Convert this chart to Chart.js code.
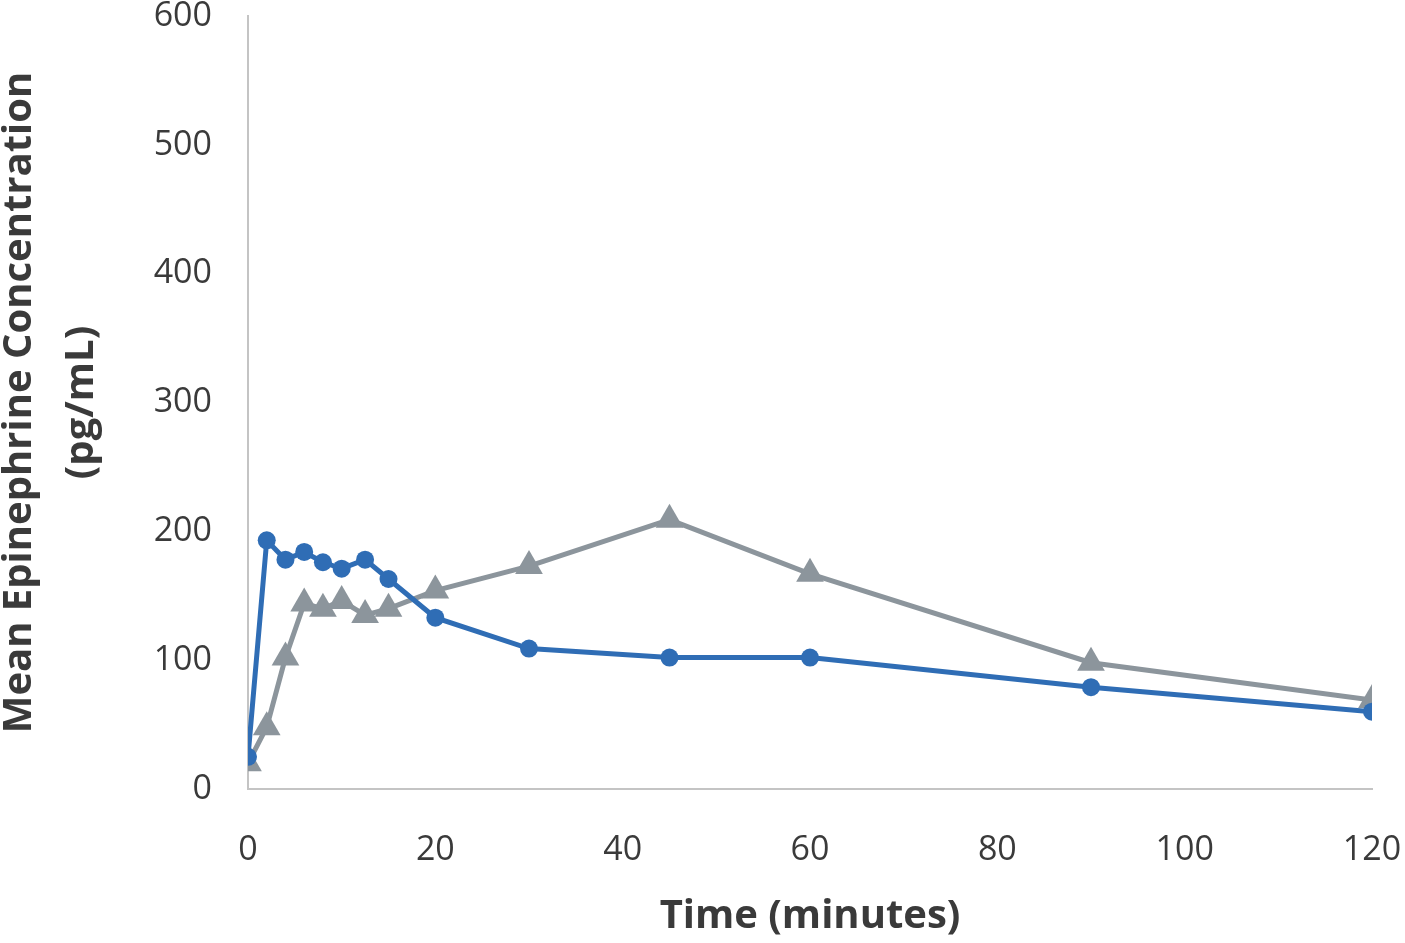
<!DOCTYPE html>
<html>
<head>
<meta charset="utf-8">
<script src="https://cdn.jsdelivr.net/npm/chart.js@4"></script>
<style>
  html, body { margin: 0; padding: 0; background: #fff; }
  #wrap { width: 1405px; height: 943px; }
</style>
</head>
<body>
<div id="wrap"><canvas id="myChart" width="1405" height="943"></canvas></div>
<script>
// time points (minutes)
var times = [0, 2, 4, 6, 8, 10, 12.5, 15, 20, 30, 45, 60, 90, 120];
// mean epinephrine concentration (pg/mL)
var blueValues = [25, 193, 178, 184, 176, 171, 178, 163, 133, 109, 102, 102, 79, 60];
var grayValues = [20, 48, 102, 144, 140, 146, 135, 140, 154, 173, 209, 167, 98, 69];
var yTicks = [0, 100, 200, 300, 400, 500, 600];
var xTicks = [0, 20, 40, 60, 80, 100, 120];

function toPoints(vals) {
    return times.map(function(t, i) { return { x: t, y: vals[i] }; });
}

document.addEventListener("DOMContentLoaded", function() {
    var ctx = document.getElementById('myChart').getContext('2d');
    var textColor = '#3a3a3a';
    var tickFont = { family: 'Open Sans', size: 34, lineHeight: 1 };
    var yTitleFont = { family: 'Open Sans', size: 40, weight: 'bold', lineHeight: 1.55 };
    var xTitleFont = { family: 'Open Sans', size: 40, weight: 'bold', lineHeight: 1.2 };

    new Chart(ctx, {
        type: 'line',
        data: {
            datasets: [{
                label: 'Series 1',
                data: toPoints(blueValues),
                borderColor: '#2f6db5',
                backgroundColor: '#2f6db5',
                borderWidth: 5,
                pointStyle: 'circle',
                pointRadius: 9,
                pointHoverRadius: 9,
                pointBorderWidth: 0,
                tension: 0
            }, {
                label: 'Series 2',
                data: toPoints(grayValues),
                borderColor: '#8c959c',
                backgroundColor: '#8c959c',
                borderWidth: 5,
                pointStyle: 'triangle',
                pointRadius: 16,
                pointHoverRadius: 16,
                pointBorderWidth: 0,
                tension: 0
            }]
        },
        options: {
            responsive: false,
            animation: false,
            layout: { padding: { top: 15, right: 33, bottom: 0, left: 0 } },
            plugins: { legend: { display: false }, tooltip: { enabled: false } },
            scales: {
                x: {
                    type: 'linear',
                    min: 0,
                    max: 120,
                    afterBuildTicks: function(scale) {
                        scale.ticks = xTicks.map(function(v) { return { value: v }; });
                    },
                    afterFit: function(scale) {
                        scale.height = 154;
                        scale.paddingLeft = 0;
                        scale.paddingRight = 0;
                    },
                    grid: { display: false, drawTicks: false },
                    border: { display: true, color: '#c4c4c4', width: 2 },
                    ticks: { color: textColor, font: tickFont, padding: 44, maxRotation: 0 },
                    title: { display: true, text: 'Time (minutes)', color: textColor, font: xTitleFont, padding: { top: 0, bottom: 2 } }
                },
                y: {
                    min: 0,
                    max: 600,
                    afterBuildTicks: function(scale) {
                        scale.ticks = yTicks.map(function(v) { return { value: v }; });
                    },
                    afterFit: function(scale) {
                        scale.width = 248;
                        scale.paddingTop = 0;
                        scale.paddingBottom = 0;
                    },
                    grid: { display: false, drawTicks: false },
                    border: { display: true, color: '#c4c4c4', width: 2 },
                    ticks: { color: textColor, font: tickFont, padding: 36 },
                    title: {
                        display: true,
                        text: ['Mean Epinephrine Concentration', '(pg/mL)'],
                        color: textColor,
                        font: yTitleFont,
                        padding: { top: -11, bottom: 0 }
                    }
                }
            }
        }
    });
});
</script>
</body>
</html>
